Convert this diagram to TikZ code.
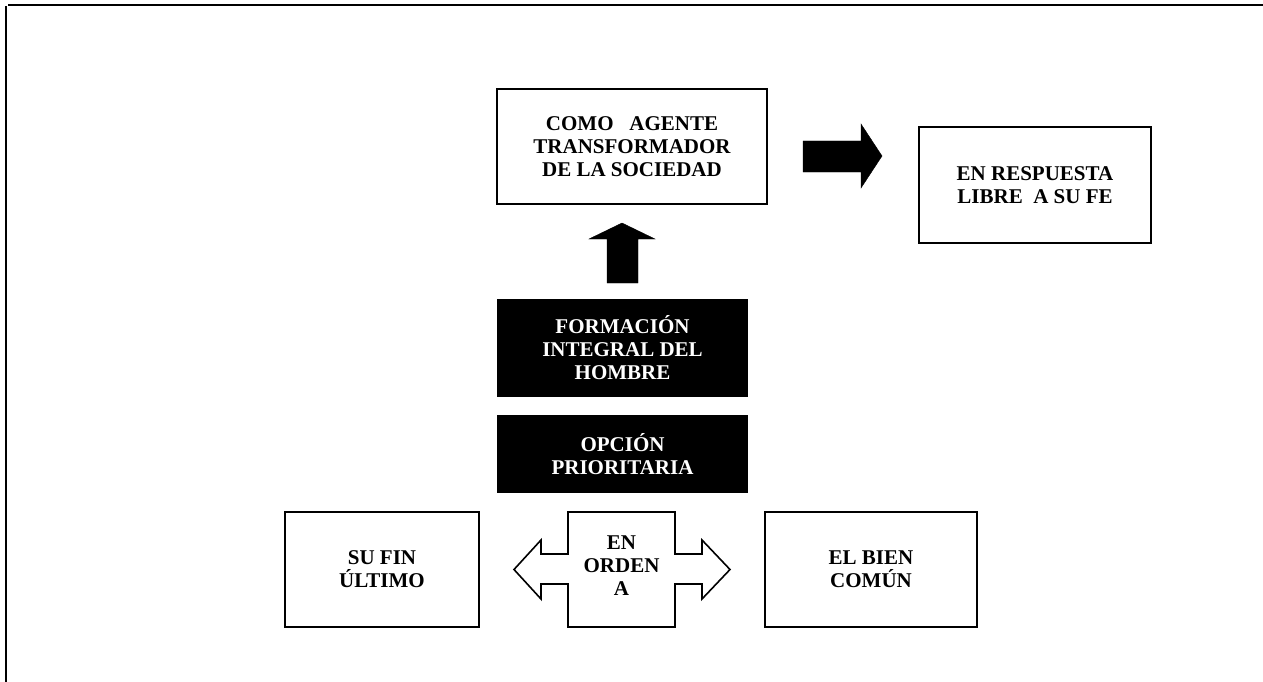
\documentclass[tikz,border=0pt]{standalone}
\usepackage{fontspec}
\setmainfont{Liberation Serif}
\begin{document}
\begin{tikzpicture}[x=1pt,y=-1pt,
  label text/.style={align=center, inner sep=0pt,
    font=\fontsize{21}{23}\selectfont\bfseries},
  box/.style={label text, draw, line width=1.7pt},
  darkbox/.style={label text, fill=black, text=white},
  blockarrow/.style={fill=black},
  outlinearrow/.style={draw, line width=1.6pt, fill=white, line join=miter},
  frame/.style={line width=2pt}]
\useasboundingbox (0,0) rectangle (1263,682);

% page frame (top and left edges)
\draw[frame] (8,5) -- (1263,5);
\draw[frame] (6,6) -- (6,682);

% upper row
\node[box, minimum width=270pt, minimum height=115pt] (como) at (632,146.5)
  {COMO\ \ \ AGENTE\\TRANSFORMADOR\\DE LA SOCIEDAD};
\node[box, minimum width=232pt, minimum height=116pt] (respuesta) at (1035,185)
  {EN RESPUESTA\\LIBRE\ \ A SU FE};

% central column
\node[darkbox, minimum width=251pt, minimum height=98pt] (formacion) at (622.5,348)
  {FORMACIÓN\\INTEGRAL DEL\\HOMBRE};
\node[darkbox, minimum width=251pt, minimum height=78pt] (opcion) at (622.5,454)
  {OPCIÓN\\PRIORITARIA};

% bottom row
\node[box, minimum width=194pt, minimum height=115pt] (sufin) at (382,569.5)
  {SU FIN\\ÚLTIMO};
\node[box, minimum width=212pt, minimum height=115pt] (bien) at (871,569.5)
  {EL BIEN\\COMÚN};

% block arrows
\draw[blockarrow] (803,141) -- (861,141) -- (861,124) -- (882,156)
  -- (861,188) -- (861,172) -- (803,172) -- cycle;
\draw[blockarrow] (607,283) -- (607,239) -- (589,239) -- (622,223)
  -- (655,239) -- (638,239) -- (638,283) -- cycle;

% double-headed callout arrow
\draw[outlinearrow] (568,512) -- (675,512) -- (675,554) -- (702,554)
  -- (702,540) -- (730,569.5) -- (702,599) -- (702,584) -- (675,584)
  -- (675,627) -- (568,627) -- (568,584) -- (541,584) -- (541,599)
  -- (514,569.5) -- (541,540) -- (541,554) -- (568,554) -- cycle;
\node[label text] (orden) at (621.5,566) {EN\\ORDEN\\A};
\end{tikzpicture}
\end{document}
